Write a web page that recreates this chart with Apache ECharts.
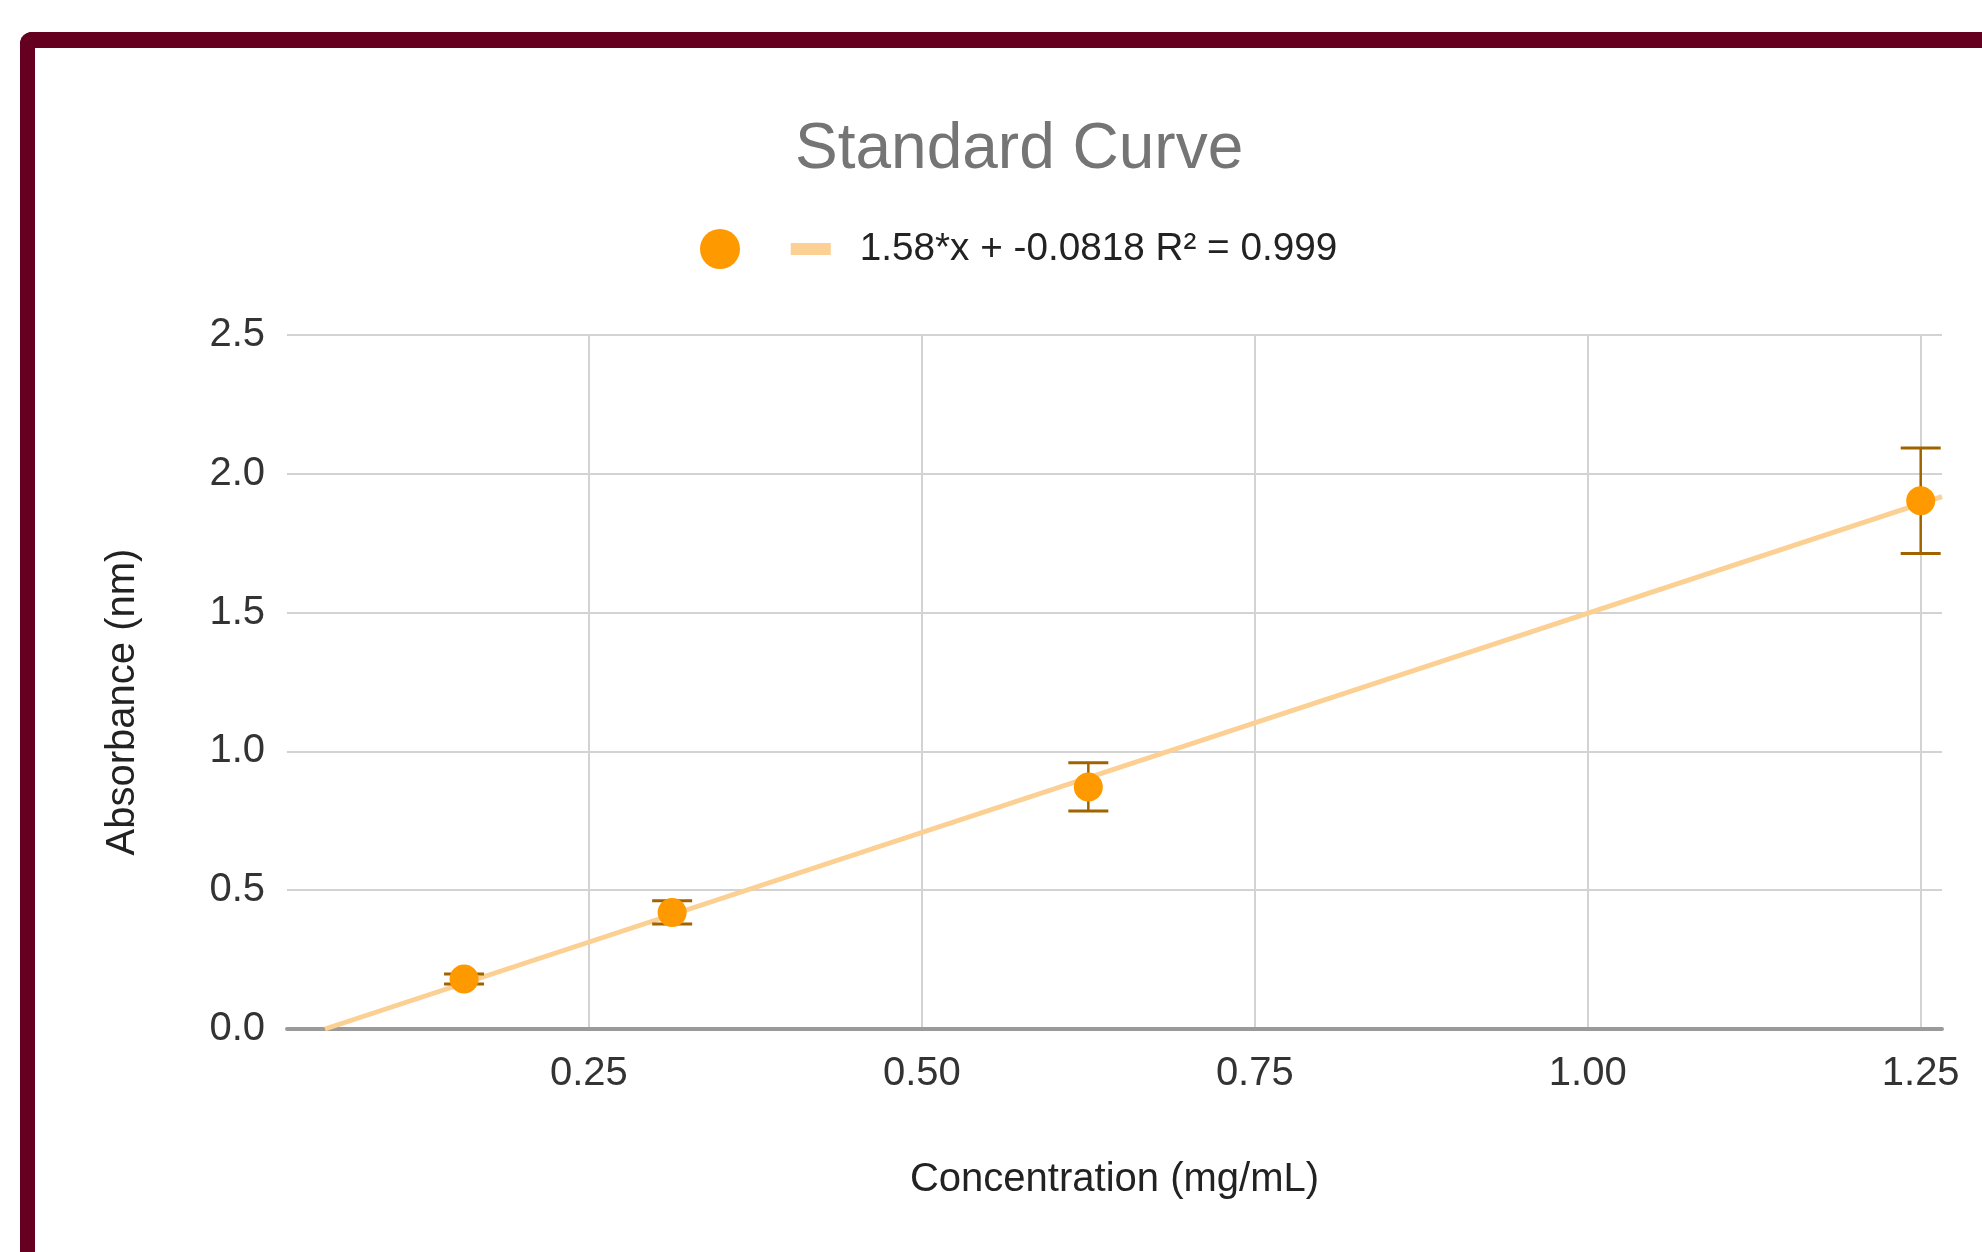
<!DOCTYPE html>
<html>
<head>
<meta charset="utf-8">
<script src="https://cdn.jsdelivr.net/npm/echarts@6/dist/echarts.min.js"></script>
<style>
  html, body { margin: 0; padding: 0; background: #fff; overflow: hidden; }
  #chart { position: absolute; left: 0; top: 0; width: 1982px; height: 1252px; }
  #frame { position: absolute; left: 20px; top: 32px; width: 2100px; height: 1400px;
           border-left: 15px solid #650021; border-top: 16px solid #650021;
           border-top-left-radius: 12px; box-sizing: border-box; pointer-events: none; }
</style>
</head>
<body>
<div id="chart"></div>
<div id="frame"></div>
<script>
// ---- data ----
const concentrations = [0.15625, 0.3125, 0.625, 1.25];
const absorbances   = [0.18, 0.42, 0.872, 1.903];
const errors        = [0.018, 0.042, 0.087, 0.19];
const xTickValues   = [0.25, 0.5, 0.75, 1.0, 1.25];
const trendX        = [0.0518, 1.266];
const trendY        = [0, 1.918];
const trendLabel    = '1.58*x + -0.0818 R² = 0.999';
const chartTitle    = 'Standard Curve';
const xTitle        = 'Concentration (mg/mL)';
const yTitle        = 'Absorbance (nm)';

const FONT = 'Liberation Sans, Arial, sans-serif';
const ORANGE = '#ff9900';
const TREND = '#fccf92';
const ERR = '#a06300';

const pointData = concentrations.map((x, i) => [x, absorbances[i]]);
const errData = concentrations.map((x, i) => [x, absorbances[i], errors[i]]);
const trendData = trendX.map((x, i) => [x, trendY[i]]);

const chart = echarts.init(document.getElementById('chart'));
chart.setOption({
  animation: false,
  backgroundColor: 'transparent',
  title: {
    text: chartTitle,
    left: 790, top: 113,
    textStyle: { fontFamily: FONT, fontSize: 64, fontWeight: 'normal', color: '#757575' }
  },
  legend: {
    left: 695, top: 224,
    itemWidth: 40, itemHeight: 40, itemGap: 11,
    symbolKeepAspect: true,
    selectedMode: false,
    textStyle: { fontFamily: FONT, fontSize: 38.7, color: '#222', padding: [0, 0, 0, 24] },
    data: [
      { name: ' ', icon: 'circle' },
      { name: trendLabel, icon: 'path://M0,0h40v12h-40z' }
    ]
  },
  grid: { left: 287, right: 40, top: 335, bottom: 223, containLabel: false },
  xAxis: {
    type: 'value',
    min: 0.0233, max: 1.266,
    name: xTitle, nameLocation: 'middle', nameGap: 131,
    nameTextStyle: { fontFamily: FONT, fontSize: 40, color: '#222' },
    axisLine: { show: true, onZero: false, lineStyle: { color: '#9a9a9a', width: 4 } },
    axisTick: { show: false, customValues: xTickValues },
    axisLabel: {
      customValues: xTickValues,
      margin: 25,
      fontFamily: FONT, fontSize: 40, color: '#333',
      formatter: v => v.toFixed(2)
    },
    splitLine: { show: true, lineStyle: { color: '#d3d3d3', width: 2 } }
  },
  yAxis: {
    type: 'value',
    min: 0, max: 2.5, interval: 0.5,
    name: yTitle, nameLocation: 'middle', nameGap: 144, nameRotate: 90,
    nameTextStyle: { fontFamily: FONT, fontSize: 40, color: '#222', padding: [0, 40, 0, 0] },
    axisLine: { show: false },
    axisTick: { show: false },
    axisLabel: { margin: 22, fontFamily: FONT, fontSize: 40, color: '#333', formatter: v => v.toFixed(1) },
    splitLine: { show: true, lineStyle: { color: '#d3d3d3', width: 2 } }
  },
  series: [
    {
      name: trendLabel,
      type: 'line',
      data: trendData,
      symbol: 'none',
      lineStyle: { color: TREND, width: 5 },
      itemStyle: { color: TREND },
      z: 2
    },
    {
      name: 'errors',
      type: 'custom',
      data: errData,
      encode: { x: 0, y: 1 },
      z: 3,
      renderItem: function (params, api) {
        const x = api.value(0), y = api.value(1), e = api.value(2);
        const t = api.coord([x, y + e]);
        const b = api.coord([x, y - e]);
        const hw = 20;
        const st = { stroke: ERR, lineWidth: 3 };
        return {
          type: 'group',
          children: [
            { type: 'line', shape: { x1: t[0], y1: t[1], x2: b[0], y2: b[1] }, style: { stroke: ERR, lineWidth: 2.5 } },
            { type: 'line', shape: { x1: t[0] - hw, y1: t[1], x2: t[0] + hw, y2: t[1] }, style: st },
            { type: 'line', shape: { x1: b[0] - hw, y1: b[1], x2: b[0] + hw, y2: b[1] }, style: st }
          ]
        };
      }
    },
    {
      name: ' ',
      type: 'scatter',
      data: pointData,
      symbol: 'circle',
      symbolSize: 29,
      itemStyle: { color: ORANGE, opacity: 1 },
      z: 4
    }
  ]
});
</script>
</body>
</html>
